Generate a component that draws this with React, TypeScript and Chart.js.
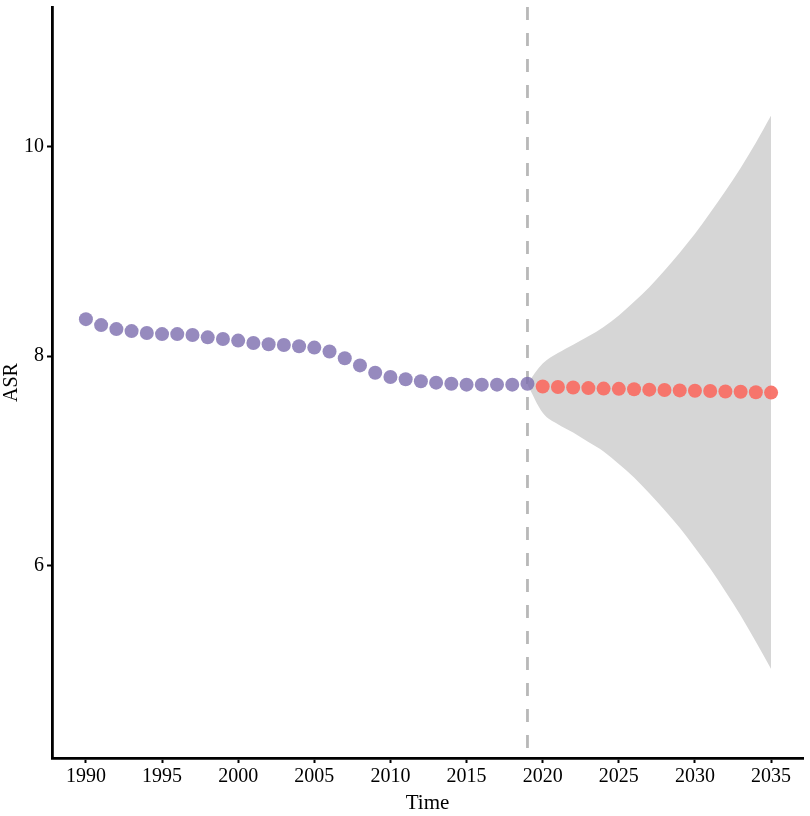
import React, { useEffect, useRef } from "react";
import { Chart, registerables } from "chart.js";

Chart.register(...registerables);

const observedYears = [1990, 1991, 1992, 1993, 1994, 1995, 1996, 1997, 1998, 1999, 2000, 2001, 2002, 2003, 2004, 2005, 2006, 2007, 2008, 2009, 2010, 2011, 2012, 2013, 2014, 2015, 2016, 2017, 2018, 2019];
const observedASR = [8.354, 8.297, 8.259, 8.24, 8.221, 8.211, 8.211, 8.202, 8.18, 8.164, 8.149, 8.126, 8.114, 8.107, 8.095, 8.082, 8.045, 7.981, 7.912, 7.842, 7.801, 7.779, 7.76, 7.747, 7.737, 7.728, 7.728, 7.728, 7.728, 7.737];

const forecastYears = [2020, 2021, 2022, 2023, 2024, 2025, 2026, 2027, 2028, 2029, 2030, 2031, 2032, 2033, 2034, 2035];
const forecastASR = [7.71, 7.705, 7.7, 7.695, 7.69, 7.688, 7.684, 7.68, 7.677, 7.673, 7.67, 7.667, 7.663, 7.66, 7.656, 7.652];

const bandYears = [2019, 2020, 2021, 2022, 2023, 2024, 2025, 2026, 2027, 2028, 2029, 2030, 2031, 2032, 2033, 2034, 2035];
const bandUpper = [7.74, 7.93, 8.03, 8.11, 8.19, 8.28, 8.39, 8.52, 8.66, 8.82, 8.99, 9.17, 9.37, 9.58, 9.8, 10.04, 10.3];
const bandLower = [7.73, 7.46, 7.35, 7.27, 7.18, 7.09, 6.97, 6.84, 6.69, 6.53, 6.36, 6.17, 5.97, 5.75, 5.52, 5.27, 5.01];

const xTicks = [1990, 1995, 2000, 2005, 2010, 2015, 2020, 2025, 2030, 2035];
const yTicks = [6, 8, 10];

const cutYear = 2019;
const X_MIN = 1987.773;
const X_MAX = 2037.096;
const Y_MIN = 4.159;
const Y_MAX = 11.338;

const FONT = "'Liberation Serif', 'Times New Roman', serif";

export default function App() {
  const ref = useRef<HTMLCanvasElement | null>(null);

  useEffect(() => {
    if (!ref.current) return;
    const zip = (xs: number[], ys: number[]) => xs.map((x, i) => ({ x, y: ys[i] }));
    const chart = new Chart(ref.current, {
      type: "line",
      data: {
        datasets: [
          {
            label: "cut",
            order: 5,
            data: [{ x: cutYear, y: Y_MAX }, { x: cutYear, y: Y_MIN }],
            borderColor: "#b8b8b8",
            borderWidth: 2.8,
            borderDash: [13, 13],
            pointRadius: 0,
            fill: false,
          },
          {
            label: "upper",
            order: 4,
            data: zip(bandYears, bandUpper),
            borderWidth: 0,
            borderColor: "rgba(0,0,0,0)",
            backgroundColor: "rgb(214,214,214)",
            pointRadius: 0,
            fill: "+1",
            cubicInterpolationMode: "monotone",
          },
          {
            label: "lower",
            order: 3,
            data: zip(bandYears, bandLower),
            borderWidth: 0,
            borderColor: "rgba(0,0,0,0)",
            pointRadius: 0,
            fill: false,
            cubicInterpolationMode: "monotone",
          },
          {
            label: "observed",
            order: 2,
            data: zip(observedYears, observedASR),
            showLine: false,
            pointRadius: 7,
            pointBorderWidth: 0,
            pointBackgroundColor: "rgba(124,109,174,0.8)",
            pointBorderColor: "rgba(0,0,0,0)",
          },
          {
            label: "forecast",
            order: 1,
            data: zip(forecastYears, forecastASR),
            showLine: false,
            pointRadius: 7,
            pointBorderWidth: 0,
            pointBackgroundColor: "rgba(248,112,102,0.95)",
            pointBorderColor: "rgba(0,0,0,0)",
          },
        ],
      },
      options: {
        animation: false,
        responsive: false,
        devicePixelRatio: 1,
        layout: { padding: { top: 2, right: 5, left: 0, bottom: 0 } },
        plugins: { legend: { display: false }, tooltip: { enabled: false } },
        scales: {
          x: {
            type: "linear",
            min: X_MIN,
            max: X_MAX,
            afterBuildTicks: (s: any) => {
              s.ticks = xTicks.map((v) => ({ value: v }));
            },
            afterFit: (s: any) => {
              s.height = 58;
              s.paddingLeft = 0;
              s.paddingRight = 0;
            },
            grid: { drawOnChartArea: false, drawTicks: true, tickLength: 5, tickWidth: 2, tickColor: "#000" },
            border: { color: "#000", width: 2.8 },
            ticks: {
              color: "#000",
              font: { family: FONT, size: 20 },
              padding: 2,
              maxRotation: 0,
              autoSkip: false,
              callback: (v: any) => String(v),
            },
            title: {
              display: true,
              text: "Time",
              color: "#000",
              font: { family: FONT, size: 21 },
              padding: { top: 0, bottom: 0 },
            },
          },
          y: {
            type: "linear",
            min: Y_MIN,
            max: Y_MAX,
            afterBuildTicks: (s: any) => {
              s.ticks = yTicks.map((v) => ({ value: v }));
            },
            afterFit: (s: any) => {
              s.width = 52;
              s.paddingTop = 0;
              s.paddingBottom = 0;
            },
            grid: { drawOnChartArea: false, drawTicks: true, tickLength: 5, tickWidth: 2, tickColor: "#000" },
            border: { color: "#000", width: 2.8 },
            ticks: {
              color: "#000",
              font: { family: FONT, size: 20 },
              padding: 3,
              autoSkip: false,
              callback: (v: any) => String(v),
            },
            title: {
              display: true,
              text: "ASR",
              color: "#000",
              font: { family: FONT, size: 20 },
              padding: { top: 0, bottom: 0 },
            },
          },
        },
      },
    });
    return () => chart.destroy();
  }, []);

  return (
    <div style={{ position: "fixed", left: 0, top: 0, width: 810, height: 816, background: "#fff" }}>
      <canvas ref={ref} width={810} height={816} style={{ width: 810, height: 816, display: "block" }} />
    </div>
  );
}
